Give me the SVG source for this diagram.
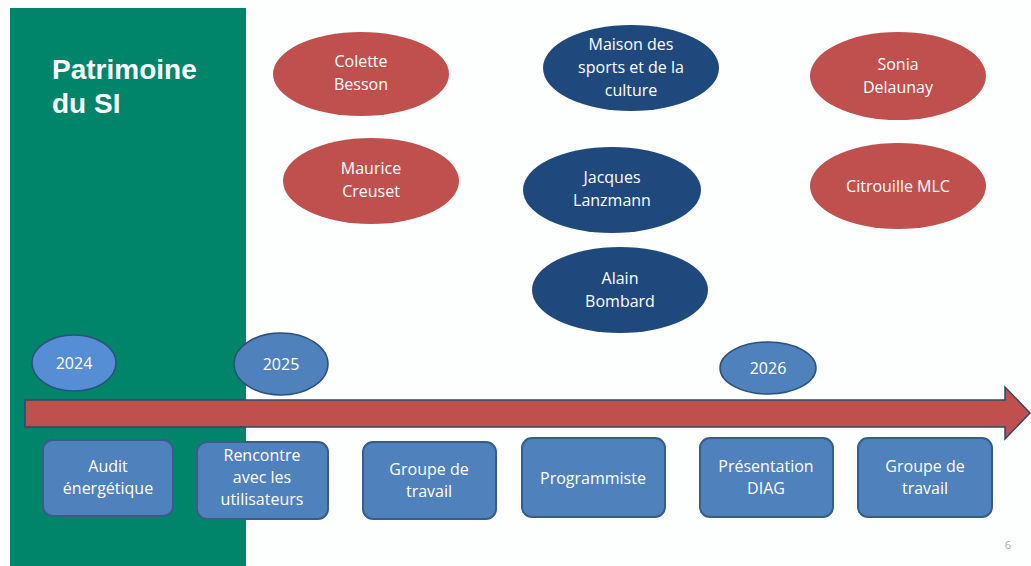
<svg xmlns="http://www.w3.org/2000/svg" width="1031" height="566" viewBox="0 0 1031 566">
<style>
.t{font-family:"Open Sans","Liberation Sans",sans-serif;font-size:16px;fill:#fff;text-anchor:middle}
.red{fill:#C0504D}
.dark{fill:#1F497D}
.yr{stroke:#2C4F7C;stroke-width:1.5}
.box{fill:#4F81BD;stroke:#385D8A;stroke-width:2}
</style>
<rect x="0" y="0" width="1031" height="566" fill="#FDFEFE"/>
<rect x="10" y="8" width="236" height="558" fill="#00856A"/>
<text x="52" y="79" font-family="Liberation Sans, Arial, sans-serif" font-weight="bold" font-size="28" fill="#fff">Patrimoine</text>
<text x="52" y="113" font-family="Liberation Sans, Arial, sans-serif" font-weight="bold" font-size="28" fill="#fff">du SI</text>

<g id="connectors">
<path d="M25,400 L1005,400 L1005,387 L1030,413 L1005,439 L1005,427 L25,427 Z" fill="#C0504D" stroke="#2E4A66" stroke-width="1.5"/>
</g>

<g id="colette"><ellipse class="red" cx="361" cy="74" rx="88" ry="42"/><text class="t" x="361" y="67">Colette</text><text class="t" x="361" y="90">Besson</text></g>
<g id="maurice"><ellipse class="red" cx="371" cy="181" rx="88" ry="43"/><text class="t" x="371" y="174">Maurice</text><text class="t" x="371" y="197">Creuset</text></g>
<g id="maison"><ellipse class="dark" cx="631" cy="68" rx="88" ry="43"/><text class="t" x="631" y="50">Maison des</text><text class="t" x="631" y="73">sports et de la</text><text class="t" x="631" y="96">culture</text></g>
<g id="jacques"><ellipse class="dark" cx="612" cy="190" rx="89" ry="43"/><text class="t" x="612" y="183">Jacques</text><text class="t" x="612" y="206">Lanzmann</text></g>
<g id="alain"><ellipse class="dark" cx="620" cy="290" rx="88" ry="43"/><text class="t" x="620" y="284">Alain</text><text class="t" x="620" y="307">Bombard</text></g>
<g id="sonia"><ellipse class="red" cx="898" cy="76" rx="88" ry="44"/><text class="t" x="898" y="70">Sonia</text><text class="t" x="898" y="93">Delaunay</text></g>
<g id="citrouille"><ellipse class="red" cx="898" cy="186" rx="88" ry="43"/><text class="t" x="898" y="192">Citrouille MLC</text></g>

<g id="y2024"><ellipse class="yr" fill="#558ED5" cx="74" cy="363" rx="42" ry="28"/><text class="t" x="74" y="369">2024</text></g>
<g id="y2025"><ellipse class="yr" fill="#4F81BD" cx="281" cy="364" rx="47" ry="31"/><text class="t" x="281" y="370">2025</text></g>
<g id="y2026"><ellipse class="yr" fill="#4F81BD" cx="768" cy="368" rx="48" ry="26"/><text class="t" x="768" y="374">2026</text></g>

<g id="audit"><rect class="box" x="43" y="440" width="130" height="76" rx="10"/><text class="t" x="108" y="472">Audit</text><text class="t" x="108" y="494">énergétique</text></g>
<g id="rencontre"><rect class="box" x="197" y="442" width="131" height="77" rx="10"/><text class="t" x="262" y="461">Rencontre</text><text class="t" x="262" y="483">avec les</text><text class="t" x="262" y="505">utilisateurs</text></g>
<g id="groupe1"><rect class="box" x="363" y="442" width="133" height="77" rx="10"/><text class="t" x="429" y="475">Groupe de</text><text class="t" x="429" y="497">travail</text></g>
<g id="programmiste"><rect class="box" x="522" y="438" width="143" height="79" rx="10"/><text class="t" x="593" y="484">Programmiste</text></g>
<g id="presentation"><rect class="box" x="700" y="438" width="133" height="79" rx="10"/><text class="t" x="766" y="472">Présentation</text><text class="t" x="766" y="494">DIAG</text></g>
<g id="groupe2"><rect class="box" x="858" y="438" width="134" height="79" rx="10"/><text class="t" x="925" y="472">Groupe de</text><text class="t" x="925" y="494">travail</text></g>

<text x="1008" y="549" font-family="Open Sans, sans-serif" font-size="11" fill="#A6A6A6" text-anchor="middle">6</text>
</svg>
